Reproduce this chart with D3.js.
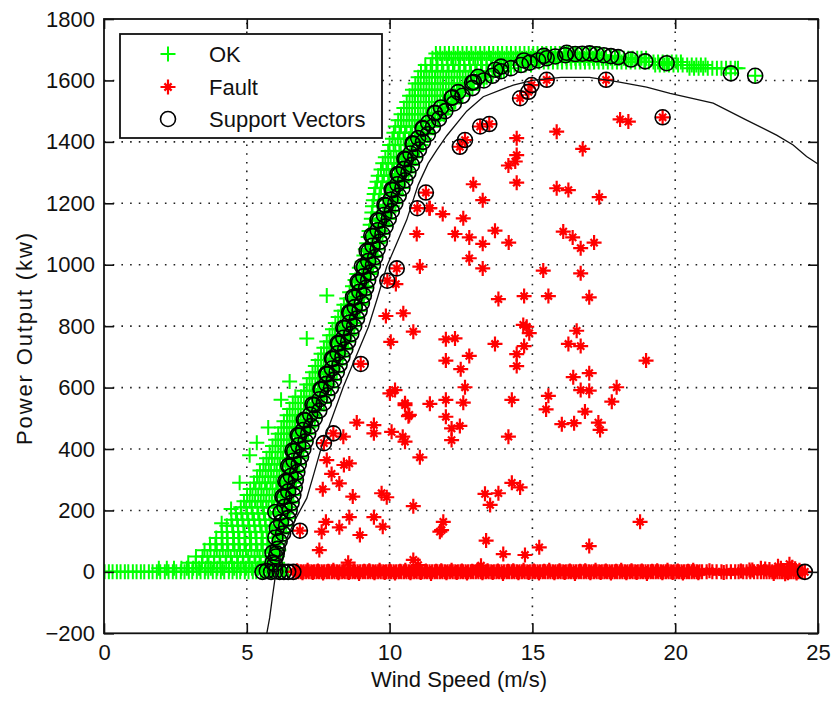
<!DOCTYPE html>
<html><head><meta charset="utf-8">
<script src="https://cdn.jsdelivr.net/npm/d3@7"></script>
<style>body{margin:0;background:#fff}svg{display:block}text{font-family:"Liberation Sans",Arial,sans-serif;fill:#111}</style>
</head><body><svg id="c" width="832" height="701"></svg>
<script>
const xTicks=[0,5,10,15,20,25];
const yTicks=[-200,0,200,400,600,800,1000,1200,1400,1600,1800];
const xLabel="Wind Speed (m/s)", yLabel="Power Output (kw)";
const legendLabels=["OK","Fault","Support Vectors"];

// OK (green +): rows of [power, wind speeds...]
const okRows=[
[0,0.02,0.17,0.3,0.45,0.58,0.73,0.85,1.01,1.14,1.29,1.41,1.57,1.7,1.85,1.97,2.13,2.26,2.41,2.53,2.69,2.82,2.97,3.09,3.25,3.38,3.53,3.65,3.81,3.94,4.09,4.21,4.37,4.5,4.65,4.77,4.93,5.06,5.21,5.33,5.49,5.62,5.77,5.89,6.05,6.18,6.31],
[12,1.92,2.2,2.45,2.71,2.9,3.12,3.33,3.56,3.74,3.97,4.15,4.38,4.56,4.79,4.97,5.18,5.39,5.58,5.8,5.98],
[30,2.95,3.21,3.43,3.66,3.85,4.07,4.28,4.48,4.69,4.88,5.1,5.3,5.49,5.71,5.9,6.08],
[50,3.22,3.45,3.62,3.86,4.05,4.26,4.44,4.66,4.86,5.05,5.27,5.45,5.66,5.85,6.06],
[70,3.52,3.73,3.95,4.16,4.35,4.57,4.76,4.97,5.16,5.37,5.56,5.77,5.96,6.12],
[90,3.71,3.9,4.12,4.31,4.52,4.71,4.92,5.11,5.32,5.51,5.72,5.91,6.1],
[110,3.93,4.15,4.33,4.55,4.74,4.95,5.15,5.34,5.56,5.75,5.95,6.14],
[130,4.12,4.3,4.52,4.7,4.92,5.1,5.3,5.52,5.7,5.9,6.1,6.22],
[150,4.3,4.49,4.69,4.88,5.08,5.27,5.47,5.66,5.86,6.05,6.25],
[170,4.46,4.66,4.85,5.05,5.25,5.44,5.64,5.83,6.03,6.22,6.34],
[190,4.62,4.81,5.01,5.2,5.4,5.6,5.79,5.99,6.18,6.38],
[210,4.79,4.98,5.17,5.37,5.56,5.76,5.95,6.15,6.34,6.45],
[230,4.9,5.1,5.29,5.49,5.68,5.88,6.07,6.27,6.46],
[250,5.01,5.2,5.4,5.59,5.79,5.98,6.18,6.37,6.55],
[270,5.12,5.31,5.51,5.7,5.9,6.09,6.29,6.48,6.6],
[290,5.25,5.44,5.64,5.83,6.03,6.22,6.42,6.61],
[310,5.36,5.55,5.75,5.94,6.14,6.33,6.53,6.68],
[330,5.46,5.66,5.85,6.05,6.24,6.44,6.63,6.75],
[350,5.58,5.77,5.97,6.16,6.36,6.55,6.75,6.8],
[370,5.69,5.88,6.08,6.27,6.47,6.66,6.85],
[390,5.8,6.0,6.19,6.39,6.58,6.78,6.9],
[410,5.9,6.1,6.29,6.49,6.68,6.88,6.96],
[430,6.01,6.2,6.4,6.59,6.79,6.98,7.02],
[450,6.1,6.3,6.49,6.69,6.88,7.08],
[470,6.21,6.4,6.6,6.79,6.99,7.18],
[490,6.3,6.5,6.69,6.89,7.08,7.28],
[510,6.41,6.6,6.8,6.99,7.19,7.38],
[530,6.5,6.7,6.89,7.09,7.28,7.45],
[550,6.61,6.8,7.0,7.19,7.39,7.55],
[570,6.7,6.9,7.09,7.29,7.48,7.65],
[590,7.0,7.2,7.39,7.59,7.75],
[610,7.1,7.29,7.49,7.68,7.85],
[630,7.2,7.4,7.59,7.79,7.9],
[650,7.3,7.49,7.69,7.88,8.0],
[670,7.4,7.6,7.79,7.99,8.1],
[690,7.5,7.69,7.89,8.08,8.2],
[710,7.6,7.8,7.99,8.19,8.3],
[730,7.7,7.89,8.09,8.28,8.4],
[750,7.8,8.0,8.19,8.39,8.5],
[770,7.9,8.09,8.29,8.48,8.6],
[790,8.0,8.2,8.39,8.59,8.65],
[810,8.1,8.29,8.49,8.68,8.75],
[830,8.2,8.4,8.59,8.79,8.85],
[850,8.3,8.49,8.69,8.88],
[870,8.4,8.6,8.79,8.99],
[890,8.5,8.69,8.89,9.05],
[910,8.6,8.8,8.99,9.1],
[930,8.7,8.89,9.09,9.15],
[950,8.79,8.99,9.18,9.25],
[970,8.85,9.05,9.24,9.3],
[990,8.94,9.14,9.33,9.35],
[1010,9.04,9.23,9.4],
[1030,9.1,9.29,9.49],
[1050,9.15,9.35,9.55],
[1070,9.2,9.4,9.6],
[1090,9.25,9.45,9.65],
[1110,9.28,9.48,9.68],
[1130,9.32,9.52,9.72,9.85],
[1150,9.36,9.56,9.76,9.95],
[1170,9.38,9.58,9.78,9.98],
[1190,9.4,9.6,9.8,10.0,10.1],
[1210,9.43,9.62,9.82,10.02,10.15],
[1230,9.46,9.65,9.85,10.04,10.24],
[1250,9.5,9.7,9.89,10.09,10.3],
[1270,9.56,9.75,9.95,10.14,10.34,10.45],
[1290,9.6,9.8,9.99,10.19,10.38,10.55],
[1310,9.7,9.89,10.09,10.28,10.48,10.62],
[1330,9.76,9.95,10.15,10.34,10.54,10.72],
[1350,9.85,10.04,10.24,10.43,10.63,10.82],
[1370,9.95,10.14,10.34,10.53,10.73,10.95],
[1390,10.0,10.2,10.39,10.59,10.78,10.98,11.1],
[1410,10.1,10.29,10.49,10.68,10.88,11.07,11.22],
[1430,10.15,10.35,10.54,10.74,10.93,11.13,11.35],
[1450,10.2,10.4,10.59,10.79,10.98,11.18,11.37,11.5],
[1470,10.3,10.49,10.69,10.88,11.08,11.27,11.47,11.68],
[1490,10.4,10.6,10.79,10.99,11.18,11.38,11.57,11.77,11.9],
[1510,10.5,10.69,10.89,11.08,11.28,11.47,11.67,11.86,12.05],
[1530,10.6,10.8,10.99,11.19,11.38,11.58,11.77,11.97,12.16,12.3],
[1550,10.7,10.89,11.09,11.28,11.48,11.67,11.87,12.06,12.26,12.5],
[1570,10.8,11.0,11.19,11.39,11.58,11.78,11.97,12.17,12.36,12.56,12.8],
[1590,10.9,11.09,11.29,11.48,11.68,11.87,12.07,12.26,12.46,12.65,12.85,13.1],
[1610,11.0,11.2,11.39,11.59,11.78,11.98,12.17,12.37,12.56,12.76,12.95,13.15,13.4],
[1630,11.1,11.29,11.49,11.68,11.88,12.07,12.27,12.46,12.66,12.85,13.05,13.24,13.44,13.63,13.83,14.0],
[1650,11.25,11.44,11.64,11.83,12.03,12.22,12.42,12.61,12.81,13.0,13.2,13.39,13.59,13.78,13.98,14.17,14.37,14.56,14.76,14.95,19.3,19.46,19.62,19.78,19.94,20.1,20.26,20.42,20.58,20.74,20.9,21.06],
[1660,15.08,15.24,15.4,15.56,15.72,15.88,16.04,16.2,16.36,16.52,16.68,16.84,17.0,17.16,17.32,17.48,17.64,17.8,17.96,18.12,18.28,18.44,18.6,18.76,18.92,19.08,19.24,19.4,19.56,19.72,19.88,20.04,20.2],
[1672,11.5,11.68,11.85,12.0,12.16,12.31,12.47,12.62,12.78,12.93,13.09,13.24,13.4,13.55,13.71,13.86,14.02,14.17,14.33,14.48,14.64,14.79,14.95,15.1,15.26,15.41,15.57,15.72,15.88,16.03,16.19,16.34,16.5,16.65,16.81,16.96,17.12,17.27,17.43,17.58,17.74,17.89,18.05,18.2,18.36,18.51,18.67,18.82,18.98],
[1688,11.62,11.77,11.93,12.08,12.24,12.39,12.55,12.7,12.86,13.01,13.17,13.32,13.48,13.63,13.79,13.94,14.1,14.25,14.41,14.56,14.72,14.87,15.03,15.18,15.34,15.49,15.65,15.8,15.96,16.11,16.27,16.42,16.58,16.73,16.89,17.04,17.2,17.35],
[1640,20.5,20.66,20.82,20.98,21.14,21.3,21.46,21.62,21.78,21.94,22.1,22.2]
];
// isolated OK points on the left edge of the band [wind, power]
const okOutliers=[[4.12,158],[4.45,205],[4.75,290],[5.1,380],[5.35,420],[5.75,470],[6.2,560],[6.5,620],[7.1,760],[7.8,900]];
// OK points that are support vectors [wind, power]
const okSV=[
[5.55,0],[5.7,3],[5.85,0],[6.0,2],[6.15,0],[6.3,0],[6.45,0],[5.9,30],[6.05,60],
[5.98,25],[6.02,50],[6.08,75],[6.15,100],[6.27,125],[6.38,150],[6.44,175],[6.5,200],[6.57,225],[6.63,250],[6.68,275],[6.72,300],[6.77,325],[6.82,350],[6.9,375],[6.98,400],[7.06,425],[7.15,450],[7.26,475],[7.38,500],[7.54,525],[7.7,550],[7.82,575],[7.95,600],[8.05,625],[8.15,650],[8.25,675],[8.35,700],[8.45,725],[8.55,750],[8.66,775],[8.76,800],[8.86,825],[8.95,850],[9.03,875],[9.1,900],[9.18,925],[9.25,950],[9.34,975],[9.42,1000],[9.5,1025],[9.58,1050],[9.66,1075],[9.75,1100],[9.86,1125],[9.97,1150],[10.08,1175],[10.2,1200],[10.32,1225],[10.45,1250],[10.55,1275],[10.66,1300],[10.78,1325],[10.9,1350],[11.03,1375],[11.17,1400],[11.34,1425],[11.52,1450],[11.73,1475],[11.95,1500],[12.25,1525],[12.55,1550],[12.9,1575],[13.3,1600],[13.6,1615],[13.9,1630],[14.25,1640],[14.6,1650],[14.9,1658],[15.2,1665],[15.5,1672],[15.8,1678],[16.15,1682],[16.5,1686],[16.75,1687],[17.0,1688],[17.25,1685],[17.5,1682],[17.75,1679],[18.0,1676],[18.45,1668],[18.95,1662],[19.7,1656],[21.95,1623],[22.8,1615],
[5.9,62],[6.0,112],[6.2,162],[6.32,212],[6.45,262],[6.54,312],[6.64,362],[6.8,412],[6.97,462],[7.22,512],[7.55,562],[7.78,612],[7.98,662],[8.18,712],[8.38,762],[8.6,812],[8.78,862],[8.94,912],[9.08,962],[9.25,1012],[9.4,1062],[9.58,1112],[9.8,1162],[10.03,1212],[10.27,1262],[10.5,1312],[10.73,1362],[11.0,1412],[11.35,1462],[11.8,1512],[12.4,1562],[13.1,1612],[13.9,1645],[14.7,1665],[15.4,1680],[16.2,1690],
[6.0,195],[6.25,245],[6.35,295],[6.45,345],[6.6,395],[6.78,445],[7.0,495],[7.3,545],[7.58,595],[7.78,645],[7.98,695],[8.18,745],[8.38,795],[8.58,845],[8.72,895],[8.88,945],[9.03,995],[9.2,1045],[9.36,1095],[9.58,1145],[9.82,1195],[10.07,1245],[10.28,1295],[10.52,1345],[10.8,1395],[11.15,1445],[11.58,1495],[12.2,1545],[12.95,1595],[13.7,1635],
[6.05,143],[6.18,193],[6.31,243],[6.41,293],[6.51,343],[6.66,393],[6.83,443],[7.05,493],[7.36,543],[7.61,593],[7.82,643],[8.02,693],[8.22,743],[8.43,793],[8.62,843],[8.78,893],[8.93,943],[9.1,993],[9.26,1043],[9.42,1093],[9.64,1143],[9.87,1193],[10.11,1243],[10.33,1293],[10.57,1343],[10.83,1393],[11.17,1443],[11.59,1493],[12.17,1543],[12.89,1593]
];

// Fault (red *) [wind, power]
const faultPts=[
[18.07,1473],[18.36,1466],[15.85,1433],[14.45,1412],[16.76,1377],[14.45,1357],[14.4,1336],[14.16,1323],[12.93,1262],[14.45,1267],[15.85,1249],[16.26,1243],[17.34,1220],[13.26,1210],[11.41,1184],[11.39,1184],[11.86,1165],[12.58,1151],[12.29,1100],[12.79,1089],[13.26,1068],[13.69,1111],[14.17,1072],[12.79,1021],[13.26,988],[16.08,1108],[16.41,1089],[16.69,1054],[17.16,1072],[15.38,981],[16.69,972],[13.81,888],[14.71,898],[15.56,898],[16.99,894],[14.68,804],[14.8,798],[14.89,777],[14.71,735],[14.45,709],[14.45,670],[11.97,757],[12.29,760],[13.69,742],[12.79,703],[11.97,688],[12.49,660],[16.55,785],[16.26,742],[16.69,735],[18.98,688],[16.43,634],[16.99,647],[16.69,592],[16.99,590],[17.95,601],[17.78,554],[16.84,522],[12.64,601],[11.97,560],[12.58,551],[11.41,547],[14.28,560],[15.56,573],[15.48,529],[11.97,505],[12.17,467],[12.46,475],[12.17,429],[14.16,440],[16.03,481],[16.46,484],[17.31,486],[17.37,462],[14.28,290],[14.57,275],[13.34,254],[13.81,256],[13.52,218],[11.88,163],[11.82,136],[13.38,102],[13.98,58],[14.74,55],[15.24,80],[16.99,84],[18.77,163],
[8.38,440],[8.85,486],[9.45,478],[9.45,451],[10.07,456],[10.46,440],[10.54,424],[10.54,543],[10.66,507],[11.06,373],[7.8,364],[8.4,348],[8.59,353],[7.97,319],[8.24,288],[7.66,269],[8.71,245],[9.72,256],[9.9,243],[10.83,214],[7.77,163],[7.62,131],[8.24,145],[8.59,178],[9.45,178],[9.76,147],[8.96,120],[7.54,71],[11.76,131],[10.83,39],[8.55,30],
[11.06,994],[10.22,937],[10.95,1100],[9.87,833],[10.48,842],[10.83,782],[10.04,749],[10.01,581],[10.19,592],[10.54,549],[10.69,511],
[13.2,20],[11.0,22],[23.0,12],[23.6,18],[24.0,25],[24.2,10],[23.3,8],[22.6,6],[23.85,-6],[24.25,-4]
];
// Fault points at zero output [wind]
const faultZeroWind=[6.72,6.81,6.9,6.99,7.08,7.17,7.26,7.35,7.44,7.53,7.62,7.71,7.8,7.89,7.98,8.07,8.16,8.25,8.34,8.43,8.52,8.61,8.7,8.79,8.88,8.97,9.06,9.15,9.24,9.33,9.42,9.51,9.6,9.69,9.78,9.87,9.96,10.05,10.14,10.23,10.32,10.41,10.5,10.59,10.68,10.77,10.86,10.95,11.04,11.13,11.22,11.31,11.4,11.49,11.58,11.67,11.76,11.85,11.94,12.03,12.12,12.21,12.3,12.39,12.48,12.57,12.66,12.75,12.84,12.93,13.02,13.11,13.2,13.29,13.38,13.47,13.56,13.65,13.74,13.83,13.92,14.01,14.1,14.19,14.28,14.37,14.46,14.55,14.64,14.73,14.82,14.91,15.0,15.09,15.18,15.27,15.36,15.45,15.54,15.63,15.72,15.81,15.9,15.99,16.08,16.17,16.26,16.35,16.44,16.53,16.62,16.71,16.8,16.89,16.98,17.07,17.16,17.25,17.34,17.43,17.52,17.61,17.7,17.79,17.88,17.97,18.06,18.15,18.24,18.33,18.42,18.51,18.6,18.69,18.78,18.87,18.96,19.05,19.14,19.23,19.32,19.41,19.5,19.59,19.68,19.77,19.86,19.95,20.04,20.13,20.22,20.31,20.4,20.49,20.58,20.67,20.76,20.85,20.94,21.1,21.3,21.45,21.62,21.8,21.95,22.1,22.22,22.38,22.5,22.63,22.76,22.88,23.0,23.1,23.2,23.3,23.4,23.5,23.58,23.66,23.74,23.82,23.9,23.98,24.06,24.14,24.22,24.3,24.38,24.45];
// Fault points just off zero output [wind, power]
const faultLow=[[6.76,4],[6.95,-3],[7.13,5],[7.31,-2],[7.49,3],[7.67,-4],[7.85,2],[8.03,5],[8.21,-3],[8.39,4],[8.57,-2],[8.75,3],[8.93,-5],[9.11,2],[9.29,4],[9.47,-3],[9.65,5],[9.83,-2],[10.01,3],[10.19,-4],[10.37,2],[10.55,5],[10.73,-3],[10.91,4],[11.09,-2],[11.27,3],[11.45,-5],[11.63,2],[11.81,4],[11.99,-3],[12.17,5],[12.35,-2],[12.53,3],[12.71,-4],[12.89,2],[13.07,5],[13.25,-3],[13.43,4],[13.61,-2],[13.79,3],[13.97,-5],[14.15,2],[14.33,4],[14.51,-3],[14.69,5],[14.87,-2],[15.05,3],[15.23,-4],[15.41,2],[15.59,5],[15.77,-3],[15.95,4],[16.13,-2],[16.31,3],[16.49,-5],[16.67,2],[16.85,4],[17.03,-3],[17.21,5],[17.39,-2],[17.57,3],[17.75,-4],[17.93,2],[18.11,5],[18.29,-3],[18.47,4],[18.65,-2],[18.83,3],[19.01,-5],[19.19,2],[19.37,4],[19.55,-3],[19.73,5],[19.91,-2],[20.09,3],[20.27,-4],[20.45,2],[20.63,5],[20.81,-3],[21.2,4],[21.7,-2],[22.3,3],[22.7,6],[23.15,9],[23.45,-5],[23.7,12],[23.95,-3],[24.1,15],[24.35,5]];
// Fault points that are support vectors
const faultSV=[[6.63,0],[6.86,134],[7.7,419],[8.03,451],[8.99,677],[9.92,948],[10.25,988],[10.97,1184],[11.27,1235],[12.46,1384],[12.64,1406],[13.17,1450],[13.49,1458],[14.57,1542],[14.86,1563],[14.97,1585],[15.5,1602],[17.58,1602],[19.56,1480],[24.54,0]];

// SVM decision boundary [wind, power]
const boundary=[[5.7,-200],[5.8,-150],[5.9,-80],[6.02,0],[6.2,60],[6.45,120],[6.75,180],[7.1,240],[7.35,320],[7.62,408],[8.0,505],[8.38,603],[8.82,700],[9.26,798],[9.6,900],[9.9,994],[10.25,1070],[10.6,1146],[11.0,1260],[11.35,1330],[11.65,1373],[12.0,1420],[12.7,1500],[13.28,1547],[14.33,1585],[15.0,1600],[16.0,1610],[17.0,1610],[18.0,1595],[19.0,1578],[19.82,1558],[21.33,1526],[22.5,1471],[23.55,1422],[24.13,1390],[24.6,1352],[25.0,1328]];

const svg=d3.select("#c");
const X0=104,X1=818,Y0=19,Y1=633.3;
const x=d3.scaleLinear().domain([0,25]).range([X0,X1]);
const y=d3.scaleLinear().domain([-200,1800]).range([Y1,Y0]);
const GREEN="#00ff00",RED="#ff0000",FONT='"Liberation Sans",Arial,sans-serif';

svg.append("defs").append("clipPath").attr("id","pa").append("rect")
  .attr("x",X0).attr("y",Y0).attr("width",X1-X0).attr("height",Y1-Y0);

// grid
const grid=svg.append("g").attr("stroke","#222").attr("stroke-width",1.6).attr("stroke-dasharray","1.6,7.1");
grid.selectAll(".gx").data(xTicks.slice(1,-1)).join("line").attr("x1",d=>x(d)).attr("x2",d=>x(d)).attr("y1",Y1).attr("y2",Y0);
grid.selectAll(".gy").data(yTicks.slice(1,-1)).join("line").attr("y1",d=>y(d)).attr("y2",d=>y(d)).attr("x1",X0).attr("x2",X1);

const plus="M-7.5,0H7.5M0,-7.5V7.5";
const star="M-7.5,0H7.5M0,-7.5V7.5M-3.6,-3.6L3.6,3.6M-3.6,3.6L3.6,-3.6";

const okPts=okRows.flatMap(r=>r.slice(1).map(w=>[w,r[0]])).concat(okOutliers,okSV);
const fPts=faultPts.concat(faultZeroWind.map(w=>[w,0]),faultLow,faultSV);

const plot=svg.append("g").attr("clip-path","url(#pa)");
plot.append("g").attr("stroke",GREEN).attr("stroke-width",2).attr("fill","none")
  .selectAll("path").data(okPts).join("path")
  .attr("transform",d=>`translate(${x(d[0]).toFixed(2)},${y(d[1]).toFixed(2)})`).attr("d",plus);
plot.append("g").attr("stroke",RED).attr("stroke-width",2.2).attr("fill","none")
  .selectAll("path").data(fPts).join("path")
  .attr("transform",d=>`translate(${x(d[0]).toFixed(2)},${y(d[1]).toFixed(2)})`).attr("d",star);
plot.append("g").attr("stroke","#000").attr("stroke-width",1.6).attr("fill","none")
  .selectAll("circle").data(okSV.concat(faultSV)).join("circle")
  .attr("cx",d=>x(d[0])).attr("cy",d=>y(d[1])).attr("r",7.5);
plot.append("path").datum(boundary).attr("fill","none").attr("stroke","#111").attr("stroke-width",1.3)
  .attr("d",d3.line().x(d=>x(d[0])).y(d=>y(d[1])));

// axes
function style(g){g.attr("font-size",22).attr("font-family",FONT);g.select(".domain").remove();
  g.selectAll("line").attr("stroke","#111").attr("stroke-width",1.6);g.selectAll("text").attr("fill","#111");}
svg.append("g").attr("transform",`translate(0,${Y1})`).call(d3.axisBottom(x).tickValues(xTicks).tickSizeInner(-10).tickSizeOuter(0).tickPadding(11).tickFormat(d3.format("d"))).call(style);
svg.append("g").attr("transform",`translate(${X0},0)`).call(d3.axisLeft(y).tickValues(yTicks).tickSizeInner(-10).tickSizeOuter(0).tickPadding(9).tickFormat(d3.format("d"))).call(style);
svg.append("g").attr("transform",`translate(0,${Y0})`).call(d3.axisTop(x).tickValues(xTicks).tickSizeInner(-10).tickSizeOuter(0).tickFormat("")).call(style);
svg.append("g").attr("transform",`translate(${X1},0)`).call(d3.axisRight(y).tickValues(yTicks).tickSizeInner(-10).tickSizeOuter(0).tickFormat("")).call(style);
svg.append("rect").attr("x",X0).attr("y",Y0).attr("width",X1-X0).attr("height",Y1-Y0).attr("fill","none").attr("stroke","#111").attr("stroke-width",1.8);

svg.append("text").attr("x",459).attr("y",687).attr("text-anchor","middle").attr("font-size",22).text(xLabel);
svg.append("text").attr("transform","translate(32,339) rotate(-90)").attr("text-anchor","middle").attr("font-size",22)
  .attr("textLength",212).attr("lengthAdjust","spacing").text(yLabel);

// legend
const lg=svg.append("g");
lg.append("rect").attr("x",120).attr("y",34).attr("width",262).attr("height",104).attr("fill","#fff").attr("stroke","#111").attr("stroke-width",1.8);
const ly=[54,87,119];
lg.append("path").attr("transform",`translate(168,${ly[0]})`).attr("d",plus).attr("stroke",GREEN).attr("stroke-width",2);
lg.append("path").attr("transform",`translate(168,${ly[1]})`).attr("d",star).attr("stroke",RED).attr("stroke-width",2.2);
lg.append("circle").attr("cx",168).attr("cy",ly[2]).attr("r",7.5).attr("fill","none").attr("stroke","#000").attr("stroke-width",1.6);
lg.selectAll("text").data(legendLabels).join("text").attr("x",209).attr("y",(d,i)=>ly[i]+8).attr("font-size",22).text(d=>d);
</script></body></html>
